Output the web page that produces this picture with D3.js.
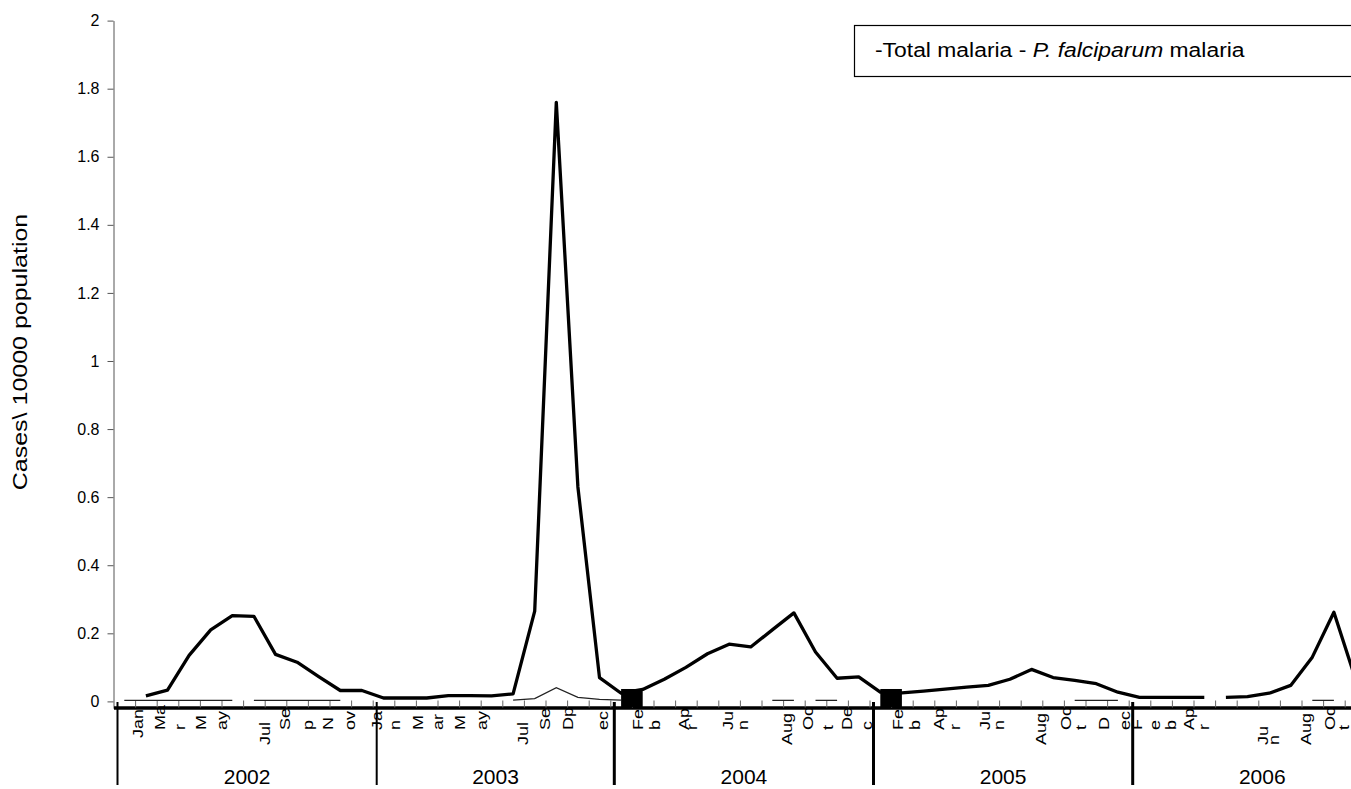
<!DOCTYPE html>
<html>
<head>
<meta charset="utf-8">
<script src="https://cdn.jsdelivr.net/npm/d3@7"></script>
<style>
body { margin: 0; background: #fff; }
text { font-family: "Liberation Sans", Arial, sans-serif; fill: #000; }
</style>
</head>
<body>
<svg id="chart"></svg>
<script>
// one value per month, Jan 2002 .. Oct 2006 (2003 has 11 columns in the source)
var totalMalaria = [
    null, 0.016, 0.033, 0.135, 0.21, 0.252, 0.25, 0.138, 0.115, 0.073, 0.032, 0.032,
    0.01, 0.01, 0.01, 0.017, 0.017, 0.016, 0.022, 0.265, 1.76, 0.63, 0.07,
    0.024, 0.035, 0.065, 0.1, 0.14, 0.168, 0.16, 0.21, 0.26, 0.145, 0.068, 0.072,
    0.027, 0.025, 0.03, 0.036, 0.042, 0.047, 0.065, 0.094, 0.07, 0.062, 0.052, 0.027,
    0.012, 0.012, 0.012, 0.012, 0.012, 0.014, 0.024, 0.047, 0.13, 0.262, 0.066
];
var falciparum = [
    0.003, 0.003, 0.003, 0.003, 0.003, 0.003, 0.003, 0.003, 0.003, 0.003, 0.003, null,
    null, null, null, null, null, null, 0.004, 0.008, 0.04, 0.012, 0.006,
    0.004, null, null, null, null, null, null, 0.003, 0.003, 0.003, 0.003, null,
    null, null, null, null, null, null, null, null, null, 0.003, 0.003, 0.003,
    null, null, null, null, null, null, null, null, 0.003, 0.003, null
];
// segment not drawn after these months
var totalBreaks = [50];
var falciparumBreaks = [5, 31];
// black square marks (month where they start)
var squareMarks = [23, 35];

var yTicks = [0, 0.2, 0.4, 0.6, 0.8, 1, 1.2, 1.4, 1.6, 1.8, 2];
var years = ['2002', '2003', '2004', '2005', '2006'];
var yearStarts = [0, 12, 23, 35, 47, 59];
// wrapped month labels as they appear: [month position, text, line]
var monthLabels = [
    [1.13, 'Jan', 1], [2.15, 'Ma', 0], [3.08, 'r', 0], [4.05, 'M', 0], [5.02, 'ay', 0],
    [7.01, 'Jul', 2], [7.94, 'Se', 0], [9.0, 'p', 0], [9.93, 'N', 0], [10.95, 'ov', 0],
    [12.2, 'Ja', 0], [13.03, 'n', 0], [14.1, 'M', 0], [15.0, 'ar', 0], [16.04, 'M', 0], [17.06, 'ay', 0],
    [18.96, 'Jul', 2], [19.98, 'Se', 0], [21.04, 'Dp', 0], [22.66, 'ec', 0],
    [24.28, 'Fe', 0], [25.07, 'b', 0], [26.41, 'Ap', 0], [26.78, 'r', 0], [28.45, 'Ju', 0], [29.14, 'n', 0],
    [31.18, 'Aug', 2], [32.15, 'Oc', 0], [33.08, 't', 0], [33.96, 'De', 0], [34.88, 'c', 0],
    [36.32, 'Fe', 0], [37.1, 'b', 0], [38.21, 'Ap', 0], [38.95, 'r', 0], [40.35, 'Ju', 0], [40.99, 'n', 0],
    [42.94, 'Aug', 2], [44.1, 'Oc', 0], [44.79, 't', 0], [45.86, 'D', 0], [46.83, 'ec', 0],
    [47.38, 'F', 0], [48.2, 'e', 0], [48.98, 'b', 0], [49.81, 'Ap', 0], [50.5, 'r', 0],
    [53.22, 'Ju', 2], [53.73, 'n', 2], [55.21, 'Aug', 2], [56.32, 'Oc', 0], [56.95, 't', 0]
];

var W = 1351, H = 789;
var MARGIN = { LEFT: 113.5, TOP: 20.6, BOTTOM: 708.2 };
var MONTH_W = 21.6;
var LABEL_BOTTOM = [730, 738, 745];

var svg = d3.select('#chart')
    .attr('width', W)
    .attr('height', H);

var x = d3.scaleLinear()
    .domain([0, 60])
    .range([MARGIN.LEFT, MARGIN.LEFT + 60 * MONTH_W]);
var y = d3.scaleLinear()
    .domain([-0.02, 2])
    .range([MARGIN.BOTTOM, MARGIN.TOP]);

// y axis
var yAxis = d3.axisLeft(y)
    .tickValues(yTicks)
    .tickSize(6)
    .tickSizeOuter(0)
    .tickPadding(8)
    .tickFormat(d3.format('~g'));
var gy = svg.append('g')
    .attr('transform', 'translate(' + MARGIN.LEFT + ',0)')
    .call(yAxis);
gy.selectAll('path, line').style('stroke', '#555');
gy.selectAll('text').style('font-size', '16px').style('fill', '#000');

// the source text is stretched along its direction
svg.append('text')
    .attr('transform', 'translate(27,352) rotate(-90) scale(1.25,1)')
    .attr('text-anchor', 'middle')
    .style('font-size', '20px')
    .text('Cases\\ 10000 population');

// x axis: heavy line with small ticks between months
var xAxis = d3.axisTop(x)
    .tickValues(d3.range(1, 60))
    .tickSize(7)
    .tickSizeOuter(0)
    .tickFormat('');
var gx = svg.append('g')
    .attr('transform', 'translate(0,707.5)')
    .call(xAxis);
gx.select('.domain').style('stroke', '#000').style('stroke-width', 3.5);
gx.selectAll('.tick line').style('stroke', '#666');

// year separators
svg.append('g').selectAll('line')
    .data(yearStarts.slice(0, 5))
    .enter().append('line')
    .attr('x1', function (d) { return x(d) + 4; })
    .attr('x2', function (d) { return x(d) + 4; })
    .attr('y1', 702)
    .attr('y2', 785)
    .style('stroke', '#000')
    .style('stroke-width', function (d, i) { return i < 2 ? 2 : 3; });

svg.append('g').selectAll('text')
    .data(years)
    .enter().append('text')
    .attr('x', function (d, i) { return x((yearStarts[i] + yearStarts[i + 1]) / 2) + 4; })
    .attr('y', 784)
    .attr('text-anchor', 'middle')
    .style('font-size', '21px')
    .text(function (d) { return d; });

svg.append('g').selectAll('text')
    .data(monthLabels)
    .enter().append('text')
    .attr('transform', function (d) {
        return 'translate(' + (x(d[0]) + 5) + ',' + LABEL_BOTTOM[d[2]] + ') rotate(-90) scale(1.2,1)';
    })
    .style('font-size', '15px')
    .text(function (d) { return d[1]; });

// lines
function runs(values, breaks) {
    var out = [], cur = [];
    values.forEach(function (v, i) {
        if (v === null) {
            if (cur.length) out.push(cur);
            cur = [];
            return;
        }
        cur.push({ i: i, v: v });
        if (breaks.indexOf(i) >= 0) {
            out.push(cur);
            cur = [];
        }
    });
    if (cur.length) out.push(cur);
    return out.filter(function (r) { return r.length > 1; });
}
var line = d3.line()
    .x(function (d) { return x(d.i + 0.5); })
    .y(function (d) { return y(d.v); });

svg.append('g').selectAll('path')
    .data(runs(falciparum, falciparumBreaks))
    .enter().append('path')
    .attr('d', line)
    .style('fill', 'none')
    .style('stroke', '#222')
    .style('stroke-width', 1.3);

svg.append('g').selectAll('path')
    .data(runs(totalMalaria, totalBreaks))
    .enter().append('path')
    .attr('d', line)
    .style('fill', 'none')
    .style('stroke', '#000')
    .style('stroke-width', 3.3)
    .style('stroke-linejoin', 'round');

svg.append('g').selectAll('rect')
    .data(squareMarks)
    .enter().append('rect')
    .attr('x', function (d) { return x(d + 0.5); })
    .attr('width', function (d) { return x(d + 1.5) - x(d + 0.5); })
    .attr('y', y(0.01) - 9)
    .attr('height', 18)
    .style('fill', '#000');

// legend box
svg.append('rect')
    .attr('x', 854.5)
    .attr('y', 25.5)
    .attr('width', 600)
    .attr('height', 51)
    .style('fill', '#fff')
    .style('stroke', '#000')
    .style('stroke-width', 1.2);
var lt = svg.append('text')
    .attr('transform', 'translate(875,57) scale(1.09,1)')
    .style('font-size', '21px');
lt.append('tspan').text('-Total malaria - ');
lt.append('tspan').style('font-style', 'italic').text('P. falciparum');
lt.append('tspan').text(' malaria');
</script>
</body>
</html>
